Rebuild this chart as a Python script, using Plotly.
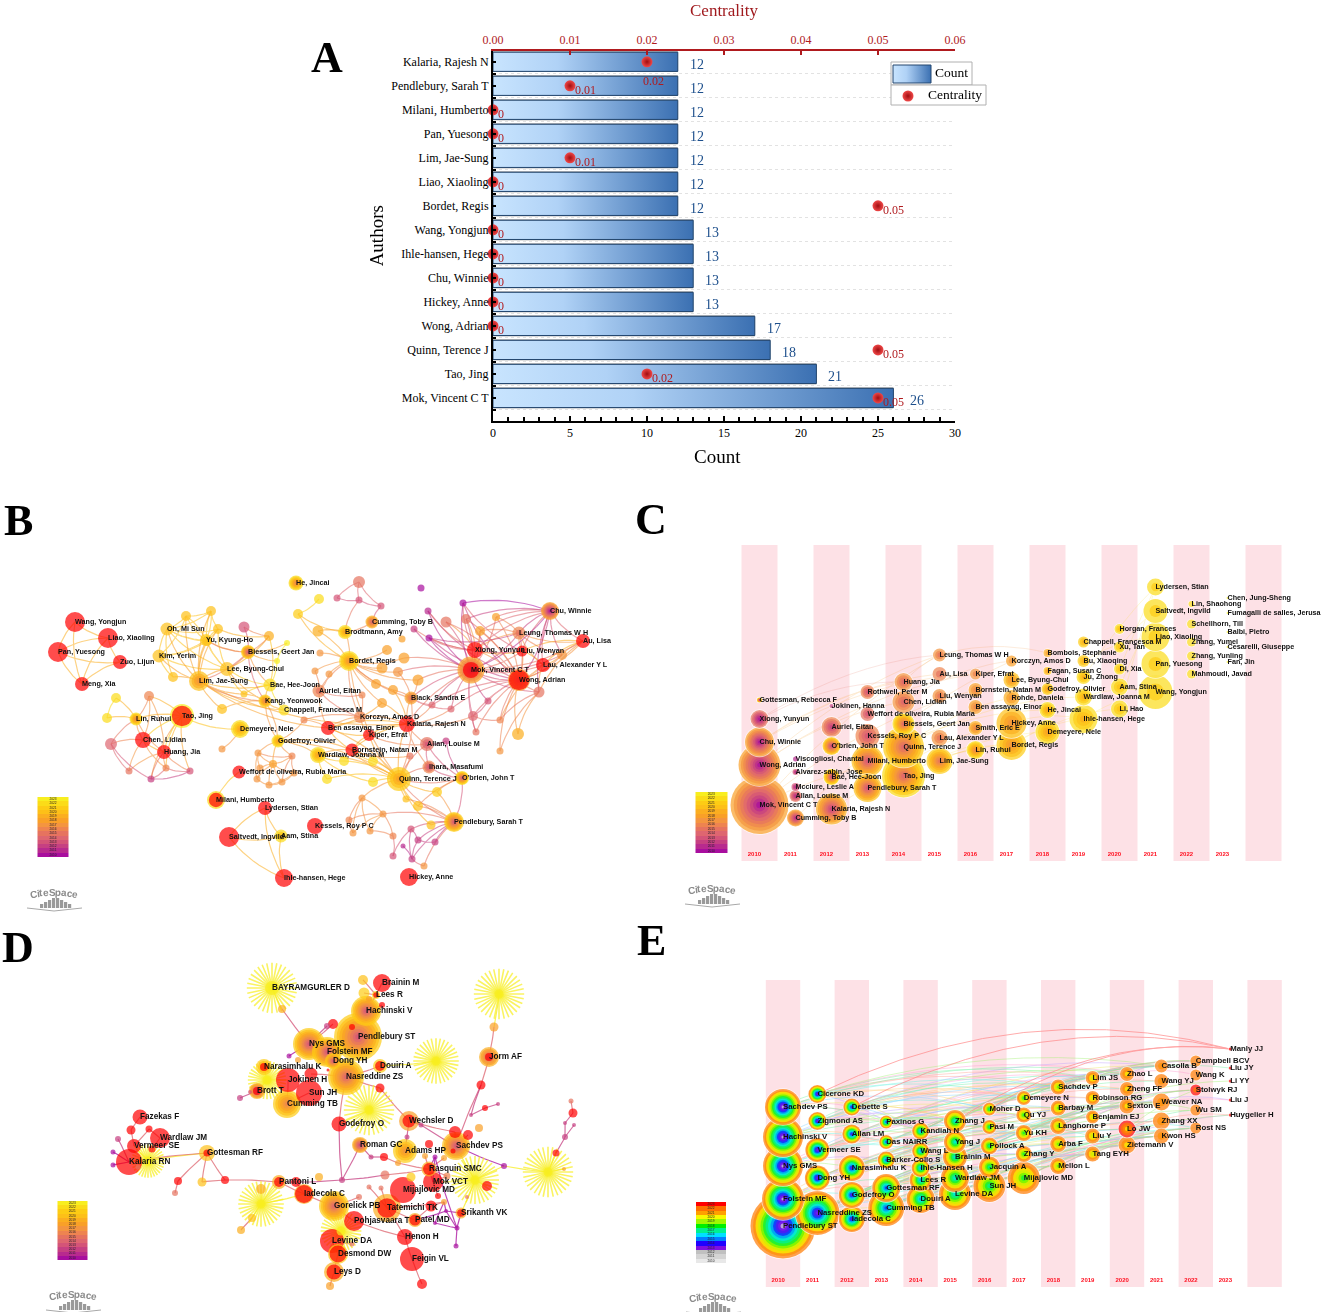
import plotly.graph_objects as go

W, H = 1325, 1312
SERIF = "Liberation Serif"
SANS = "Liberation Sans"

# ---- panel A
AUTHORS = ["Mok, Vincent C T", "Tao, Jing", "Quinn, Terence J", "Wong, Adrian", "Hickey, Anne", "Chu, Winnie",
           "Ihle-hansen, Hege", "Wang, Yongjun", "Bordet, Regis", "Liao, Xiaoling", "Lim, Jae-Sung", "Pan, Yuesong",
           "Milani, Humberto", "Pendlebury, Sarah T", "Kalaria, Rajesh N"]
COUNTS = [26, 21, 18, 17, 13, 13, 13, 13, 12, 12, 12, 12, 12, 12, 12]
CENTRALITY = [0.05, 0.02, 0.05, 0, 0, 0, 0, 0, 0.05, 0, 0.01, 0, 0, 0.01, 0.02]

# ---- year colours shared by the CiteSpace panels
YEARS = list(range(2010, 2024))
WARM = ["#a80e9e", "#b82a8e", "#c64082", "#d45478", "#de6670", "#e6735f", "#ee8450",
        "#f49540", "#f9a028", "#fbae20", "#fdc018", "#fdcc14", "#fbdc18", "#f8ee20"]
RAINBOW = ["#d8d8d8", "#8818e8", "#6010f0", "#1818ff", "#0090ff", "#00e8f0", "#00f0a0",
           "#00f040", "#60f800", "#c8f800", "#f8f800", "#ff9000", "#ff7a00", "#ff0000"]
RAINBOW_BAR = ["#e8e8e8", "#d4d4d4", "#c0c0c0", "#8010e0", "#2000ff", "#0080ff", "#00e0ff",
               "#00f090", "#00f000", "#a0f800", "#f8f800", "#ffa000", "#ff7000", "#ff0000"]

# ---- panel B, co-authorship network (page pixels), first 53 nodes are labelled
B_NAMES = ["Wang, Yongjun", "Liao, Xiaoling", "Pan, Yuesong", "Zuo, Lijun", "Meng, Xia",
           "Oh, Mi Sun", "Kim, Yerim", "Yu, Kyung-Ho", "Biessels, Geert Jan", "Lee, Byung-Chul", "Lim, Jae-Sung",
           "Bae, Hee-Joon", "Kang, Yeonwook", "Chappell, Francesca M",
           "He, Jincai", "Cumming, Toby B", "Brodtmann, Amy", "Bordet, Regis", "Auriel, Eitan",
           "Chu, Winnie", "Leung, Thomas W H", "Au, Lisa", "Xiong, Yunyun", "Liu, Wenyan", "Mok, Vincent C T",
           "Lau, Alexander Y L", "Wong, Adrian", "Black, Sandra E",
           "Korczyn, Amos D", "Ben assayag, Einor", "Kalaria, Rajesh N", "Kiper, Efrat", "Bornstein, Natan M", "Allan, Louise M",
           "Demeyere, Nele", "Godefroy, Olivier", "Wardlaw, Joanna M", "Weffort de oliveira, Rubia Maria", "Ihara, Masafumi",
           "Quinn, Terence J", "O'brien, John T",
           "Milani, Humberto", "Lydersen, Stian", "Saltvedt, Ingvild", "Aam, Stina", "Kessels, Roy P C", "Pendlebury, Sarah T",
           "Ihle-hansen, Hege", "Hickey, Anne",
           "Lin, Ruhui", "Tao, Jing", "Chen, Lidian", "Huang, Jia"]
B_X = [75, 108, 58, 120, 82,
       167, 159, 206, 248, 227, 199, 270, 265, 284,
       296, 372, 345, 349, 319,
       550, 519, 583, 475, 522, 471, 543, 519, 411,
       360, 328, 407, 369, 352, 427,
       240, 278, 318, 239, 429, 399, 462,
       216, 265, 229, 281, 315, 454, 284, 409,
       136, 182, 143, 164,
       359, 421, 319, 337, 359, 381, 298,
       463, 428, 414, 429,
       446, 466, 496, 480,
       402, 318, 387, 404, 382, 398, 320, 315, 329, 376, 393, 418, 382, 362, 304,
       562, 539, 488, 451, 432, 473, 500, 476, 518, 500, 446, 410,
       373, 344, 327, 373, 437, 418, 406, 431, 418, 435, 411, 403, 412, 393, 424, 393, 383, 370, 362, 349, 353,
       186, 211, 218, 207, 244, 269, 287, 277, 173, 222, 244,
       116, 107, 149, 111, 129, 151, 166, 190,
       222,
       258, 273, 292, 257, 269, 282, 294, 260]
B_Y = [622, 638, 652, 662, 684,
       629, 656, 640, 652, 669, 681, 685, 701, 710,
       583, 622, 632, 661, 691,
       611, 633, 641, 650, 651, 670, 665, 680, 698,
       717, 728, 724, 735, 750, 744,
       729, 741, 755, 772, 767, 779, 778,
       800, 808, 837, 836, 826, 822, 878, 877,
       719, 716, 740, 752,
       582, 588, 599, 598, 600, 606, 614,
       603, 611, 629, 638,
       622, 619, 617, 631,
       639, 631, 650, 658, 668, 672, 653, 671, 674, 684, 690, 680, 703, 695, 720,
       655, 692, 701, 709, 705, 716, 720, 732, 734, 751, 741, 756,
       761, 761, 779, 782, 792, 806, 799, 825, 840, 842, 829, 846, 859, 856, 866, 836, 814, 831, 798, 820, 833,
       616, 611, 629, 641, 627, 636, 643, 661, 677, 709, 694,
       698, 718, 696, 744, 771, 779, 768, 771,
       749,
       753, 764, 756, 779, 785, 782, 773, 768]
B_SIZE = [20, 20, 20, 14, 14,
          13, 13, 12, 14, 14, 20, 13, 13, 11,
          15, 13, 14, 20, 13,
          18, 13, 14, 16, 11, 27, 14, 22, 13,
          12, 14, 16, 12, 13, 14,
          18, 13, 16, 13, 13, 24, 14,
          18, 14, 20, 13, 16, 20, 18, 18,
          13, 24, 16, 14,
          12, 7, 10, 7, 7, 7, 10,
          7, 7, 7, 7,
          11, 10, 8, 10,
          7, 11, 10, 11, 11, 10, 7, 7, 7, 10, 10, 11, 10, 7, 7,
          10, 11, 7, 7, 7, 10, 7, 7, 12, 7, 7, 7,
          10, 10, 10, 10, 10, 10, 7, 9, 7, 7, 7, 5, 7, 7, 7, 7, 7, 7, 7, 7, 7,
          10, 10, 10, 10, 11, 10, 6, 6, 10, 10, 7,
          10, 10, 10, 12, 7, 7, 7, 7,
          7,
          7, 8, 7, 7, 7, 7, 7, 7]
B_FIRST = [9, 9, 9, 9, 9,
           10, 10, 11, 3, 10, 7, 12, 6, 12,
           6, 4, 8, 7, 5,
           0, 5, 9, 9, 9, 2, 9, 5, 5,
           6, 9, 9, 9, 9, 3,
           8, 8, 8, 9, 3, 8, 3,
           12, 9, 9, 10, 9, 3, 9, 9,
           6, 13, 9, 9,
           5, 0, 12, 3, 3, 3, 11,
           0, 1, 2, 0,
           5, 5, 8, 8,
           8, 9, 8, 8, 8, 7, 7, 7, 7, 8, 8, 8, 8, 6, 6,
           7, 5, 3, 4, 4, 4, 6, 5, 9, 7, 2, 5,
           12, 12, 12, 12, 11, 10, 10, 10, 2, 2, 3, 1, 2, 3, 7, 6, 7, 7, 7, 6, 7,
           10, 10, 10, 10, 3, 9, 13, 13, 10, 10, 10,
           12, 12, 6, 4, 5, 2, 6, 3,
           7,
           7, 8, 6, 7, 7, 7, 7, 7]
B_LAST_BY_NODE = {8: 11, 10: 10, 12: 11, 14: 12, 15: 9, 16: 12, 17: 12, 18: 6, 19: 8, 20: 6, 24: 8, 26: 8, 27: 8,
                  33: 5, 34: 12, 35: 12, 36: 12, 38: 6, 39: 11, 40: 12, 44: 12, 46: 11, 49: 12}
B_BURST_BY_NODE = {0: 1, 1: 1, 2: 1, 3: 1, 4: 1, 21: 1, 22: 1, 23: 1, 24: .6, 25: 1, 26: .92, 29: 1,
                   30: 1, 31: 1, 32: 1, 37: 1, 41: .8, 42: 1, 43: 1, 45: 1, 47: 1, 48: 1, 50: .85,
                   51: 1, 52: 1}
B_LINKS = [(0, [1, 2, 4]), (1, [2, 3, 4]), (2, [3, 4]), (3, [4]),
           (5, [6, 7, 116, 117, 118, 119, 124, 9, 10]), (6, [7, 116, 119, 124, 10, 9]), (7, [116, 117, 118, 119, 9, 10, 8]),
           (116, [117, 119, 10]), (117, [118, 119, 10]), (118, [119, 9, 10, 121]), (119, [9, 10, 8]),
           (9, [10, 8, 11, 12, 126, 121]), (10, [11, 12, 124, 125, 126, 13, 8, 29, 30]), (8, [11, 12, 120, 121, 123, 122]),
           (11, [12, 13, 126, 121, 123]), (12, [13, 126, 125, 35]), (120, [121]), (122, [123]),
           (59, [55, 16, 17]), (53, [56, 57, 58]), (56, [57]), (57, [58, 16]), (58, [15]),
           (17, [16, 69, 74, 75, 76, 70, 71, 72, 73, 77, 78, 79, 27, 18, 80, 28, 39]), (16, [69, 15]), (18, [75, 76, 81, 28, 29]),
           (24, [26, 22, 23, 25, 20, 19, 21, 64, 65, 66, 67, 85, 86, 88, 27, 84, 83, 30, 87, 90, 79, 71, 73]),
           (26, [22, 23, 25, 20, 19, 21, 65, 66, 67, 83, 84, 85, 86, 87, 88, 89, 91, 92, 90, 64]),
           (19, [20, 22, 23, 25, 21, 65, 66, 67, 83, 84, 60]), (20, [22, 23, 25, 21, 66, 67, 83]),
           (21, [23, 25, 83, 84]), (25, [83, 84, 23, 89]), (22, [23, 67, 64, 65]),
           (60, [22, 23, 24, 26]), (61, [22, 24, 26]), (62, [22, 24]), (63, [22, 24, 26, 23, 20]),
           (27, [30, 87, 86, 79, 78, 73]), (30, [29, 31, 32, 33, 28, 88, 87, 86, 80, 78, 39, 38]),
           (28, [29, 31, 81, 82]), (29, [31, 32, 82, 80]), (31, [32, 33, 39]), (32, [39, 36, 35, 95, 94]),
           (33, [38, 93, 39, 40]), (93, [40]), (38, [40, 39]), (84, [91, 92, 89]), (88, [90, 89, 85]),
           (39, [36, 95, 96, 97, 98, 94, 99, 100, 101, 46, 40, 102, 35, 27, 29, 32, 113]), (36, [35, 97, 98, 96]),
           (35, [136, 137, 138, 12, 82]), (46, [40, 99, 100, 101, 102, 103, 104, 105, 107, 109, 111]), (40, [99, 100]),
           (103, [104, 105, 107]), (105, [107, 108]), (107, [109, 106]), (108, [110]), (110, [111, 112]),
           (111, [112, 113, 114, 115]), (113, [114, 112, 115]), (114, [115]),
           (50, [49, 51, 52, 129, 133, 134, 132, 34]), (49, [128, 127, 51, 52, 130, 129]), (127, [128]),
           (51, [52, 130, 129, 131, 133]), (52, [129, 131, 132, 133, 134]), (130, [131, 132]), (132, [133, 134]), (133, [134]),
           (135, [34]), (136, [137, 138, 143, 139]), (137, [138, 143, 139, 140, 141, 142]), (138, [141, 142]),
           (139, [140, 143]), (140, [141, 142]), (141, [142]), (37, [41]),
           (42, [43, 44, 47]), (43, [44, 47]), (44, [47])]

# ---- panel C, timeline by first year, five names a column
C_NAMES = ["Mok, Vincent C T", "Wong, Adrian", "Chu, Winnie", "Xiong, Yunyun", "Gottesman, Rebecca F",
           "Cumming, Toby B", "Allan, Louise M", "Mcclure, Leslie A", "Alvarez-sabin, Jose", "Viscogliosi, Chantal",
           "Kalaria, Rajesh N", "Bae, Hee-Joon", "O'brien, John T", "Auriel, Eitan", "Jokinen, Hanna",
           "Pendlebury, Sarah T", "Milani, Humberto", "Kessels, Roy P C", "Weffort de oliveira, Rubia Maria", "Rothwell, Peter M",
           "Tao, Jing", "Quinn, Terence J", "Biessels, Geert Jan", "Chen, Lidian", "Huang, Jia",
           "Lim, Jae-Sung", "Lau, Alexander Y L", "Liu, Wenyan", "Au, Lisa", "Leung, Thomas W H",
           "Lin, Ruhui", "Smith, Eric E", "Ben assayag, Einor", "Bornstein, Natan M", "Kiper, Efrat",
           "Bordet, Regis", "Hickey, Anne", "Rohde, Daniela", "Lee, Byung-Chul", "Korczyn, Amos D",
           "Demeyere, Nele", "He, Jincai", "Godefroy, Olivier", "Fagan, Susan C", "Bombois, Stephanie",
           "Ihle-hansen, Hege", "Wardlaw, Joanna M", "Ju, Zhong", "Bu, Xiaoqing", "Chappell, Francesca M",
           "Li, Hao", "Aam, Stina", "Di, Xia", "Xu, Tan", "Horgan, Frances",
           "Wang, Yongjun", "Pan, Yuesong", "Liao, Xiaoling", "Saltvedt, Ingvild", "Lydersen, Stian",
           "Mahmoudi, Javad", "Zhang, Yunling", "Zhang, Yumei", "Schellhorn, Till", "Lin, Shaohong",
           "Fan, Jin", "Cesarelli, Giuseppe", "Balbi, Pietro", "Fumagalli de salles, Jerusa", "Chen, Jung-Sheng"]
C_Y = [805, 765, 742, 719, 700,
       818, 796, 787, 772, 759,
       809, 777, 746, 727, 706,
       788, 761, 736, 714, 692,
       776, 747, 724, 702, 682,
       761, 738, 696, 674, 655,
       750, 728, 707, 690, 674,
       745, 723, 698, 680, 661,
       732, 710, 689, 671, 653,
       719, 697, 677, 661, 642,
       709, 687, 669, 647, 629,
       692, 664, 637, 611, 587,
       674, 656, 642, 624, 604,
       662, 647, 632, 613, 598]
C_SIZE = [58, 42, 29, 18, 5,
          17, 12, 8, 6, 5,
          31, 16, 18, 20, 4,
          28, 32, 24, 14, 14,
          43, 41, 22, 22, 18,
          26, 16, 14, 14, 13,
          18, 14, 14, 14, 11,
          30, 30, 16, 16, 11,
          24, 16, 12, 8, 8,
          28, 17, 14, 12, 11,
          17, 17, 11, 11, 10,
          34, 28, 28, 24, 17,
          9, 9, 9, 9, 6,
          2, 2, 2, 2, 2]
C_LAST = [8, 8, 8, 5, 12,
          8, 5, 3, 3, 1,
          9, 12, 11, 6, 2,
          10, 10, 6, 5, 6,
          12, 11, 12, 7, 7,
          11, 7, 7, 6, 7,
          12, 9, 8, 8, 7,
          11, 10, 9, 10, 8,
          12, 12, 11, 10, 9,
          12, 12, 12, 11, 11,
          12, 12, 12, 12, 12,
          12, 12, 12, 12, 12,
          12, 12, 12, 12, 12,
          13, 13, 13, 13, 13]
C_LINKS = [(0, 25), (0, 29), (1, 29), (2, 28), (3, 29), (0, 33), (1, 34), (2, 34), (5, 39), (3, 24), (2, 24), (1, 23),
           (24, 29), (29, 44), (20, 35), (21, 37), (23, 39), (25, 35), (35, 45), (36, 45), (35, 50), (45, 55), (46, 55),
           (47, 59), (48, 57), (50, 59), (51, 58), (52, 59), (53, 58), (10, 30), (15, 36), (16, 41), (20, 40), (21, 46)]

# ---- panel D, cited-author network (page pixels), first 41 nodes are labelled
D_NAMES = ["BAYRAMGURLER D", "Brainin M", "Lees R", "Hachinski V", "Pendlebury ST", "Nys GMS", "Folstein MF", "Dong YH",
           "Nasreddine ZS", "Douiri A", "Narasimhalu K", "Jokinen H", "Brott T", "Sun JH", "Cumming TB", "Godefroy O",
           "Wechsler D", "Fazekas F", "Wardlaw JM", "Vermeer SE", "Kalaria RN", "Gottesman RF", "Roman GC", "Adams HP",
           "Sachdev PS", "Rasquin SMC", "Mok VCT", "Mijajlovic MD", "Pantoni L", "Iadecola C", "Gorelick PB", "Tatemichi TK",
           "Pohjasvaara T", "Patel MD", "Srikanth VK", "Henon H", "Levine DA", "Desmond DW", "Feigin VL", "Leys D", "Jorm AF"]
D_X = [272, 382, 376, 366, 358, 309, 327, 333, 346, 380, 264, 288, 257, 309, 287, 339, 409, 140, 160, 134, 129, 207,
       360, 405, 456, 429, 433, 403, 279, 304, 334, 387, 354, 415, 461, 405, 332, 338, 412, 334, 489,
       363, 364, 282, 369, 382, 333, 327, 352, 289, 298, 328, 311, 240, 250, 380,
       131, 149, 118, 113, 113, 152, 138, 178, 175, 202, 225, 241, 252, 261,
       296, 319, 342, 385, 411, 407, 421, 371, 384, 398, 429, 425, 435, 444, 447, 455, 468, 479, 453, 504,
       487, 438, 467, 444, 431, 446, 457, 456, 435, 369, 381, 359, 352, 330, 422, 481, 494, 471, 485, 498,
       571, 573, 565, 574, 565, 556, 564,
       499, 436, 369, 267, 148, 475, 548, 261, 341]
D_Y = [988, 983, 995, 1011, 1037, 1044, 1052, 1061, 1077, 1066, 1067, 1080, 1091, 1093, 1104, 1124, 1121, 1117, 1138,
       1146, 1162, 1153, 1145, 1151, 1146, 1169, 1182, 1190, 1182, 1194, 1206, 1208, 1221, 1220, 1213, 1237, 1241, 1254,
       1259, 1272, 1057,
       980, 993, 1009, 999, 1005, 1024, 1026, 1027, 1056, 1060, 1070, 1074, 1098, 1092, 1088,
       1130, 1129, 1139, 1152, 1165, 1149, 1167, 1181, 1193, 1182, 1180, 1230, 1218, 1189,
       1182, 1177, 1180, 1175, 1177, 1137, 1125, 1157, 1157, 1163, 1144, 1156, 1157, 1158, 1176, 1132, 1135, 1128, 1151, 1166,
       1186, 1196, 1197, 1202, 1206, 1211, 1228, 1246, 1223, 1187, 1188, 1197, 1244, 1286, 1284, 1085, 1027, 1115, 1108, 1104,
       1101, 1113, 1123, 1125, 1137, 1153, 1169,
       994, 1061, 1110, 1080, 1161, 1180, 1172, 1204, 1231]
D_SIZE = [14, 18, 8, 30, 48, 32, 30, 16, 36, 14, 16, 24, 16, 26, 28, 15, 20, 15, 20, 14, 26, 16, 16, 24, 28, 15, 20, 26,
          14, 20, 30, 28, 20, 14, 11, 16, 24, 20, 24, 20, 20,
          10, 11, 8, 6, 6, 10, 6, 6, 5, 6, 3, 13, 6, 4, 9,
          9, 7, 6, 5, 5, 7, 5, 8, 6, 9, 8, 8, 8, 10,
          10, 8, 6, 9, 9, 5, 5, 5, 8, 6, 8, 6, 5, 6, 7, 12, 10, 8, 5, 6,
          10, 6, 4, 6, 11, 4, 5, 5, 4, 5, 5, 6, 5, 8, 10, 9, 9, 4, 6, 4,
          5, 9, 4, 4, 6, 7, 4,
          9, 9, 9, 9, 9, 9, 9, 9, 9]
D_FIRST = [13, 9, 12, 3, 3, 3, 3, 3, 4, 11, 8, 9, 2, 9, 6, 9, 8, 9, 9, 9, 9, 10, 2, 7, 3, 9, 9, 9, 9, 9, 4, 9, 9, 9, 9,
           9, 9, 11, 9, 9, 4,
           10, 11, 9, 8, 9, 9, 2, 9, 0, 8, 9, 9, 2, 3, 9,
           9, 9, 2, 0, 0, 9, 5, 9, 5, 10, 9, 9, 10, 9,
           9, 9, 2, 5, 11, 2, 2, 2, 9, 8, 9, 8, 0, 8, 6, 9, 9, 8, 9, 0,
           9, 9, 5, 8, 9, 0, 0, 0, 0, 5, 5, 5, 5, 8, 9, 9, 8, 2, 9, 2,
           5, 9, 2, 2, 2, 9, 8,
           13, 13, 13, 13, 13, 13, 13, 13, 13]
D_LAST_BY_NODE = {3: 11, 4: 11, 5: 11, 6: 11, 7: 11, 8: 11, 10: 11, 12: 9, 14: 11, 22: 9, 23: 11, 24: 10, 30: 11, 40: 9}
D_BURST_BY_NODE = {1: 1, 2: .7, 9: .7, 10: .5, 11: 1, 12: .5, 13: 1, 15: 1, 16: .65, 17: 1, 18: 1, 19: 1,
                   20: 1, 21: .45, 25: .8, 26: 1, 27: 1, 28: .7, 29: .9, 31: .7, 32: 1, 33: .8, 34: .7, 35: 1,
                   36: 1, 37: .85, 38: 1, 39: .75, 40: .4}
D_BURST_SMALL = [45, 46, 48, 51, 52, 55, 56, 57, 61, 63, 66, 70, 78, 80, 85, 86, 88, 90, 91, 94, 104, 105, 108, 111, 115]
D_STARS = [0, 117, 118, 119, 120, 121, 122, 123, 124, 125]
D_STAR_SIZE = [42, 42, 38, 42, 32, 28, 40, 42, 38, 34]
D_LINKS = [(0, 43), (43, 5), (47, 5), (8, 55), (55, 16), (16, 75), (75, 23), (16, 76), (76, 24), (16, 85), (85, 24),
           (24, 86), (24, 89), (89, 123), (123, 115), (115, 114), (114, 112), (114, 113), (112, 111), (111, 110), (123, 116),
           (89, 122), (24, 122), (122, 90), (105, 24), (105, 40), (40, 106), (106, 117), (105, 107), (107, 108), (108, 109),
           (8, 15), (15, 119), (15, 72), (72, 22), (22, 77), (77, 78), (78, 79), (79, 25), (72, 73), (73, 25), (25, 26),
           (28, 72), (28, 66), (66, 65), (21, 65), (21, 66), (21, 63), (63, 64), (21, 121), (21, 20), (20, 121), (121, 19),
           (20, 58), (20, 59), (20, 60), (19, 56), (19, 57), (18, 57), (18, 61), (17, 56), (28, 29), (28, 124), (124, 29),
           (124, 69), (124, 68), (68, 67), (29, 70), (29, 30), (30, 32), (32, 35), (35, 31), (31, 99), (31, 100), (30, 101),
           (35, 38), (38, 104), (36, 37), (37, 39), (39, 103), (36, 102), (36, 125), (31, 93), (31, 33), (33, 94), (94, 93),
           (93, 95), (95, 34), (93, 98), (98, 96), (96, 97), (95, 96), (33, 95), (34, 96), (34, 122), (26, 84), (26, 91),
           (26, 122), (84, 25), (25, 83), (25, 82), (82, 26), (82, 96), (25, 81), (14, 11), (10, 120), (12, 120), (11, 120),
           (12, 53), (12, 54), (13, 14), (8, 6), (5, 6), (4, 6), (4, 3), (3, 2), (2, 1), (2, 42), (2, 41), (3, 44), (3, 45),
           (5, 49), (8, 52), (9, 118), (8, 9), (5, 46), (4, 48)]

# ---- panel E, timeline of cited authors, five names a column
E_NAMES = ["Pendlebury ST", "Folstein MF", "Nys GMS", "Hachinski V", "Sachdev PS",
           "Nasreddine ZS", "Dong YH", "Vermeer SE", "Zigmond AS", "Cicerone KD",
           "Iadecola C", "Godefroy O", "Narasimhalu K", "Allan LM", "Debette S",
           "Cumming TB", "Gottesman RF", "Barker-Collo S", "Das NAIRR", "Paxinos G",
           "Douiri A", "Lees R", "Ihle-Hansen H", "Wang L", "Kandiah N",
           "Levine DA", "Wardlaw JM", "Brainin M", "Yang J", "Zhang J",
           "Sun JH", "Jacquin A", "Pollock A", "Pasi M", "Moher D",
           "Mijajlovic MD", "Zhang Y", "Yu KH", "Qu YJ", "Demeyere N",
           "Mellon L", "Arba F", "Langhorne P", "Barbay M", "Sachdev P",
           "Tang EYH", "Liu Y", "Benjamin EJ", "Robinson RG", "Lim JS",
           "Zietemann V", "Lo JW", "Sexton E", "Zheng FF", "Zhao L",
           "Kwon HS", "Zhang XX", "Weaver NA", "Wang YJ", "Casolla B",
           "Rost NS", "Wu SM", "Stolwyk RJ", "Wang K", "Campbell BCV",
           "Huygelier H", "Liu J", "Li YY", "Liu JY", "Manly JJ"]
E_Y = [1226, 1199, 1166, 1137, 1107,
       1213, 1178, 1150, 1121, 1094,
       1219, 1195, 1168, 1134, 1107,
       1208, 1188, 1160, 1142, 1122,
       1199, 1180, 1168, 1151, 1131,
       1194, 1178, 1157, 1142, 1121,
       1186, 1167, 1146, 1127, 1109,
       1178, 1154, 1133, 1115, 1098,
       1166, 1144, 1126, 1108, 1087,
       1154, 1136, 1117, 1098, 1078,
       1145, 1129, 1106, 1089, 1074,
       1136, 1121, 1102, 1081, 1066,
       1128, 1110, 1090, 1075, 1061,
       1115, 1100, 1081, 1068, 1049]
E_SIZE = [65, 42, 40, 40, 36,
          44, 25, 24, 18, 18,
          26, 26, 26, 19, 17,
          36, 28, 17, 14, 13,
          28, 22, 18, 17, 17,
          32, 28, 24, 22, 22,
          32, 21, 17, 14, 13,
          32, 16, 16, 15, 14,
          16, 16, 16, 15, 15,
          15, 15, 13, 14, 14,
          17, 17, 15, 14, 14,
          15, 17, 17, 14, 13,
          11, 11, 11, 11, 11,
          3, 3, 3, 3, 3]
E_RED_RIM = ["Lo JW", "Stolwyk RJ"]
E_LINKS = [(0, [10, 15, 25, 30, 35, 20, 26, 31, 45]), (1, [6, 11, 16, 21, 27, 32, 36, 42, 50]), (2, [7, 12, 17, 22, 28, 33, 37, 43]),
           (3, [8, 13, 18, 23, 29, 34, 38, 44, 46]), (4, [9, 14, 19, 24, 29, 34, 39, 44, 49, 54]),
           (5, [11, 16, 21, 26, 31, 36, 41, 46, 51, 56]), (6, [12, 17, 22, 27, 32, 37, 42, 47]), (7, [13, 18, 23, 28, 33, 38, 43, 48]),
           (8, [14, 19, 24, 29, 34, 39, 44, 49, 53]), (9, [19, 24, 34, 39, 44, 49, 54, 59]),
           (10, [20, 25, 30, 35, 40, 45, 50, 55]), (11, [21, 26, 31, 36, 41, 46, 51, 56]), (12, [22, 27, 32, 37, 42, 47, 52, 57]),
           (13, [23, 28, 33, 38, 43, 48, 53, 58]), (14, [24, 29, 34, 39, 44, 49, 54, 59]),
           (15, [25, 30, 35, 40, 50, 55, 60]), (16, [26, 31, 36, 41, 51, 56, 61]), (17, [27, 32, 37, 42, 52, 57]),
           (18, [28, 33, 38, 43, 53, 58]), (19, [29, 34, 39, 44, 54, 59]),
           (20, [35, 40, 45, 50, 55]), (22, [32, 42, 47, 52]), (24, [34, 39, 44, 49, 54, 59]),
           (25, [35, 40, 45, 50, 55, 60]), (27, [37, 42, 47, 52, 57]), (29, [39, 44, 49, 54, 59]),
           (30, [40, 45, 50, 55, 60, 65]), (32, [42, 47, 52, 57, 62]), (34, [44, 49, 54, 59, 64]),
           (35, [45, 50, 55, 60, 65]), (37, [47, 52, 57, 62, 67]), (39, [49, 54, 59, 64]),
           (40, [50, 55, 60]), (42, [52, 57, 62, 66]), (44, [54, 59, 64, 68]),
           (45, [55, 60]), (47, [57, 62]), (49, [59, 64]), (51, [60, 61, 62, 65]), (52, [61, 62, 66]), (54, [63, 64])]
E_MANLY_LINKS = [(9, 69), (14, 69), (29, 69), (34, 69)]
EDGE_PASTELS = ["#ff9ad0", "#c0a0ff", "#80d0ff", "#60f0e0", "#70f0a0", "#a0f070", "#e8e860", "#ffc870", "#ffa090"]

# ---- layout of the page, in page pixels
LETTERS = [("A", 327, 57), ("B", 18, 520), ("C", 651, 519), ("D", 18, 947), ("E", 651, 940)]
COLORBARS = [(37.5, 68.5, 797, 857, WARM), (695.5, 727, 792, 853, WARM), (57.5, 87, 1201, 1260, WARM), (696, 726, 1202, 1263, RAINBOW_BAR)]
LOGOS = [(24, 887), (682, 883), (43, 1289), (683, 1291)]
LOGO_LETTERS = ["C", "i", "t", "e", "S", "p", "a", "c", "e"]
LOGO_WIDTHS = [7, 3, 3.4, 5.6, 6.7, 6, 5.6, 5.6, 5.6]

fig = go.Figure()
shapes, annotations = [], []


def bezier(x0, y0, x1, y1, cx, cy, steps=10):
    xs, ys = [], []
    for k in range(steps + 1):
        t = k / steps
        xs.append((1 - t) ** 2 * x0 + 2 * t * (1 - t) * cx + t ** 2 * x1)
        ys.append((1 - t) ** 2 * y0 + 2 * t * (1 - t) * cy + t ** 2 * y1)
    return xs, ys


def add_edges(pairs, xs, ys, color_of, bend, xa, ya, width=1.0, opacity=0.55, upward=None):
    """One line trace per colour, arcs separated by None."""
    groups = {}
    for a, b in pairs:
        if upward is None:
            cx = (xs[a] + xs[b]) / 2 - (ys[b] - ys[a]) * bend
            cy = (ys[a] + ys[b]) / 2 + (xs[b] - xs[a]) * bend
        else:
            cx = (xs[a] + xs[b]) / 2
            cy = (ys[a] + ys[b]) / 2 - abs(xs[b] - xs[a]) * upward
        ax, ay = bezier(xs[a], ys[a], xs[b], ys[b], cx, cy)
        gx, gy = groups.setdefault(color_of(a, b), ([], []))
        gx += ax + [None]
        gy += ay + [None]
    for color, (gx, gy) in groups.items():
        fig.add_trace(go.Scatter(x=gx, y=gy, mode="lines", line=dict(color=color, width=width), opacity=opacity,
                                 hoverinfo="skip", xaxis=xa, yaxis=ya, showlegend=False))


def add_nodes(xs, ys, sizes, firsts, lasts, bursts, colors, xa, ya, halo=False):
    """Tree rings: first year in the middle, last year on the rim, largest node drawn first."""
    px, py, ps, pc = [], [], [], []
    for i in sorted(range(len(xs)), key=lambda n: -sizes[n]):
        rings = lasts[i] - firsts[i] + 1
        if halo:
            px.append(xs[i]); py.append(ys[i]); ps.append(sizes[i] + 1.5); pc.append("white")
        if bursts[i] < 1:
            for k in range(rings, 0, -1):
                px.append(xs[i]); py.append(ys[i]); ps.append(sizes[i] * k / rings)
                pc.append(colors[firsts[i] + k - 1])
        if bursts[i]:
            px.append(xs[i]); py.append(ys[i]); ps.append(sizes[i] * bursts[i]); pc.append("#ff0000")
    fig.add_trace(go.Scatter(x=px, y=py, mode="markers", marker=dict(size=ps, color=pc, line=dict(width=0)),
                             cliponaxis=False, hoverinfo="skip", xaxis=xa, yaxis=ya, showlegend=False))


def add_labels(xs, ys, names, xa, ya, size):
    fig.add_trace(go.Scatter(x=xs[:len(names)], y=ys[:len(names)], text=names, mode="text", textposition="middle right",
                             textfont=dict(family=SANS, size=size, color="#111111", weight="bold"),
                             cliponaxis=False, hoverinfo="skip", xaxis=xa, yaxis=ya, showlegend=False))


def hidden_axis(rng, domain):
    return dict(range=rng, domain=domain, visible=False, fixedrange=True)


# ---- panel A marks
ROWS = list(range(len(AUTHORS)))
fig.add_trace(go.Bar(x=COUNTS, y=ROWS, orientation="h", width=0.86, marker=dict(color="#7d7d7d", line=dict(width=0)),
                     xaxis="x", yaxis="y", showlegend=False, hoverinfo="skip"))
for row, count in zip(ROWS, COUNTS):
    fig.add_trace(go.Scatter(x=[0, count, count, 0, 0], y=[row - .4, row - .4, row + .4, row + .4, row - .4], mode="lines",
                             fill="toself", line=dict(color="#24476f", width=1),
                             fillgradient=dict(type="horizontal", colorscale=[[0, "#c8e4fe"], [.35, "#b0d2f6"], [1, "#3b70b2"]]),
                             xaxis="x", yaxis="y", showlegend=False, hoverinfo="skip"))
    annotations.append(dict(x=count, y=row, xref="x", yref="y", text=str(count), showarrow=False,
                            xshift=24 if count == 26 else 19, yshift=-3,
                            font=dict(family=SERIF, size=14, color="#1d4f8c")))
fig.add_trace(go.Scatter(x=CENTRALITY, y=ROWS, mode="markers", xaxis="x2", yaxis="y", cliponaxis=False, showlegend=False,
                         hoverinfo="skip", marker=dict(size=11, color="#f04848", gradient=dict(type="radial", color="#a00d10"),
                                                       line=dict(width=0))))
for row, value in zip(ROWS, CENTRALITY):
    misplaced = AUTHORS[row] == "Kalaria, Rajesh N"
    annotations.append(dict(x=value, y=row, xref="x2", yref="y", text=f"{value:g}", showarrow=False, xanchor="left",
                            xshift=-6 if misplaced else 3, yshift=-19 if misplaced else -4,
                            font=dict(family=SERIF, size=12, color="#b01a1e")))

# ---- panel C and E columns
C_X = [2010 + i // 5 for i in range(len(C_NAMES))]
E_X = [2010 + i // 5 for i in range(len(E_NAMES))]
C_FIRST = [x - 2010 for x in C_X]
E_FIRST = [x - 2010 for x in E_X]
E_LAST = [13 if x == 2023 or n in E_RED_RIM else 12 for x, n in zip(E_X, E_NAMES)]
for year in YEARS[::2] + [2024]:
    shapes.append(dict(type="rect", xref="x4", yref="y4", x0=year - .5, x1=year + .5, y0=545, y1=861, layer="below",
                       fillcolor="#fde1e6", line=dict(width=0)))
    shapes.append(dict(type="rect", xref="x6", yref="y6", x0=year - .5, x1=year + .5, y0=980, y1=1287, layer="below",
                       fillcolor="#fde1e6", line=dict(width=0)))

# ---- panel B
B_LAST = [B_LAST_BY_NODE.get(i, f) for i, f in enumerate(B_FIRST)]
B_BURST = [B_BURST_BY_NODE.get(i, 0) for i in range(len(B_X))]
add_edges([(a, b) for a, targets in B_LINKS for b in targets], B_X, B_Y,
          lambda a, b: WARM[(B_FIRST[a] + B_FIRST[b]) // 2], 0.14, "x3", "y3", width=1.2)
add_nodes(B_X, B_Y, B_SIZE, B_FIRST, B_LAST, B_BURST, WARM, "x3", "y3")
add_labels(B_X, B_Y, B_NAMES, "x3", "y3", 7.2)

# ---- panel C
add_edges(C_LINKS, C_X, C_Y, lambda a, b: WARM[C_LAST[a]], 0, "x4", "y4", width=.8, opacity=.22, upward=5)
add_nodes(C_X, C_Y, C_SIZE, C_FIRST, C_LAST, [0] * len(C_X), WARM, "x4", "y4", halo=True)
add_labels(C_X, C_Y, C_NAMES, "x4", "y4", 7.2)
fig.add_trace(go.Scatter(x=[y - .14 for y in YEARS], y=[854] * len(YEARS), text=[str(y) for y in YEARS], mode="text",
                         textfont=dict(family=SANS, size=6, color="#ff1020", weight="bold"), cliponaxis=False,
                         hoverinfo="skip", xaxis="x4", yaxis="y4", showlegend=False))

# ---- panel D
D_LAST = [D_LAST_BY_NODE.get(i, f) for i, f in enumerate(D_FIRST)]
D_BURST = [D_BURST_BY_NODE.get(i, 1 if i in D_BURST_SMALL else 0) for i in range(len(D_X))]


def d_edge_color(a, b):
    if a in D_STARS or b in D_STARS:
        return WARM[13]
    return WARM[min(4, D_FIRST[a], D_FIRST[b])]


add_edges(D_LINKS, D_X, D_Y, d_edge_color, 0.03, "x5", "y5", width=1.2, opacity=.75)
star_x = [D_X[n] for n in D_STARS for _ in range(4)]
star_y = [D_Y[n] for n in D_STARS for _ in range(4)]
star_s = [s for s in D_STAR_SIZE for _ in range(4)]
star_a = [a for _ in D_STARS for a in (0, 11, 22, 33)]
fig.add_trace(go.Scatter(x=star_x, y=star_y, mode="markers", cliponaxis=False, hoverinfo="skip", xaxis="x5", yaxis="y5",
                         showlegend=False, marker=dict(symbol="asterisk-open", size=star_s, angle=star_a, color="#f8ee20",
                                                       line=dict(color="#f8ee20", width=1.6))))
add_nodes(D_X, D_Y, D_SIZE, D_FIRST, D_LAST, D_BURST, WARM, "x5", "y5")
add_labels(D_X, D_Y, D_NAMES, "x5", "y5", 8.2)

# ---- panel E
add_edges([(a, b) for a, targets in E_LINKS for b in targets], E_X, E_Y,
          lambda a, b: EDGE_PASTELS[(a + b) % len(EDGE_PASTELS)], 0, "x6", "y6", width=.7, opacity=.6, upward=4)
add_edges(E_MANLY_LINKS, E_X, E_Y, lambda a, b: "#ff8a8a", 0, "x6", "y6", width=.9, opacity=.8, upward=6.5)
add_nodes(E_X, E_Y, E_SIZE, E_FIRST, E_LAST, [0] * len(E_X), RAINBOW, "x6", "y6", halo=True)
add_labels(E_X, E_Y, E_NAMES, "x6", "y6", 7.8)
fig.add_trace(go.Scatter(x=[y - .14 for y in YEARS], y=[1280.5] * len(YEARS), text=[str(y) for y in YEARS], mode="text",
                         textfont=dict(family=SANS, size=6, color="#ff1020", weight="bold"), cliponaxis=False,
                         hoverinfo="skip", xaxis="x6", yaxis="y6", showlegend=False))

# ---- things placed on the page itself: year bars, logos, letters, legend of A
for x0, x1, y0, y1, colors in COLORBARS:
    n = len(YEARS)
    edges = [y0 + (y1 - y0) * k / n for k in range(n + 1)]
    scale = []
    for k, c in enumerate(colors[::-1]):
        scale += [[k / n, c], [(k + 1) / n, c]]
    fig.add_trace(go.Heatmap(x=[x0, x1], y=edges, z=[[k] for k in range(n)], colorscale=scale, zmin=-.5, zmax=n - .5,
                             showscale=False, hoverinfo="skip", xaxis="x7", yaxis="y7"))
    fig.add_trace(go.Scatter(x=[(x0 + x1) / 2] * n, y=[(a + b) / 2 for a, b in zip(edges, edges[1:])],
                             text=[str(y) for y in YEARS[::-1]], mode="text", textfont=dict(family=SANS, size=3.2, color="#222"),
                             hoverinfo="skip", xaxis="x7", yaxis="y7", showlegend=False))

for lx, ly in LOGOS:
    pos = 30 - sum(LOGO_WIDTHS) / 2
    for k, (ch, wd) in enumerate(zip(LOGO_LETTERS, LOGO_WIDTHS)):
        off = (pos + wd / 2 - 30) / 25
        annotations.append(dict(x=lx + pos + wd / 2, y=ly + 5 + off * off * 3, xref="x7", yref="y7", text=ch, showarrow=False,
                                textangle=off * 12, font=dict(family=SANS, size=10, color="#8c8c8c", weight="bold")))
        pos += wd
    for dx, top in zip(range(16, 46, 4), (17, 15, 13, 11, 11, 13, 15, 17)):
        shapes.append(dict(type="rect", xref="x7", yref="y7", x0=lx + dx, x1=lx + dx + 3.2, y0=ly + top, y1=ly + 21,
                           fillcolor="#9a9a9a", line=dict(width=0)))
    shapes.append(dict(type="path", xref="x7", yref="y7", line=dict(color="#a8a8a8", width=1),
                       path=f"M {lx + 3} {ly + 21} L {lx + 30} {ly + 24} L {lx + 58} {ly + 21}"))

for letter, lx, ly in LETTERS:
    annotations.append(dict(x=lx, y=ly, xref="x7", yref="y7", text=letter, showarrow=False,
                            font=dict(family=SERIF, size=44, color="black", weight="bold")))
annotations.append(dict(x=717, y=456, xref="x7", yref="y7", text="Count", showarrow=False,
                        font=dict(family=SERIF, size=19, color="black")))

shapes.append(dict(type="rect", xref="x7", yref="y7", x0=891, x1=972, y0=62, y1=85, fillcolor="white", layer="below",
                   line=dict(color="#b0b0b0", width=1)))
shapes.append(dict(type="rect", xref="x7", yref="y7", x0=891, x1=986, y0=85, y1=105, fillcolor="white", layer="below",
                   line=dict(color="#b0b0b0", width=1)))
fig.add_trace(go.Scatter(x=[893, 931, 931, 893, 893], y=[65, 65, 83, 83, 65], mode="lines", fill="toself",
                         line=dict(color="#24476f", width=1), hoverinfo="skip", xaxis="x7", yaxis="y7", showlegend=False,
                         fillgradient=dict(type="horizontal", colorscale=[[0, "#c8e4fe"], [.35, "#b0d2f6"], [1, "#3b70b2"]])))
fig.add_trace(go.Scatter(x=[908], y=[96], mode="markers", hoverinfo="skip", xaxis="x7", yaxis="y7", showlegend=False,
                         marker=dict(size=11, color="#f04848", gradient=dict(type="radial", color="#a00d10"), line=dict(width=0))))
fig.add_trace(go.Scatter(x=[935, 928], y=[74, 96], text=["Count", "Centrality"], mode="text", textposition="middle right",
                         textfont=dict(family=SERIF, size=13.5, color="black"), hoverinfo="skip", xaxis="x7", yaxis="y7",
                         showlegend=False))


def span(a, b, total):
    return [a / total, b / total]


def vspan(top, bottom):
    return [1 - bottom / H, 1 - top / H]


fig.update_layout(
    width=W, height=H, margin=dict(l=0, r=0, t=0, b=0, autoexpand=False), autosize=False, paper_bgcolor="white",
    plot_bgcolor="rgba(0,0,0,0)", font=dict(family=SERIF), barmode="overlay", showlegend=False, shapes=shapes, annotations=annotations,
    xaxis=dict(domain=span(493, 955, W), range=[0, 30], anchor="y", side="bottom", showgrid=False, zeroline=False,
               showline=True, linecolor="black", linewidth=2, ticks="inside", tickcolor="black", tickwidth=1.5, ticklen=5, dtick=5,
               minor=dict(dtick=1, ticks="inside", ticklen=4, tickcolor="black", tickwidth=1.5),
               tickfont=dict(family=SERIF, size=12, color="black")),
    xaxis2=dict(domain=span(493, 955, W), range=[0, .06], anchor="y", overlaying="x", side="top", showgrid=False, zeroline=False,
                showline=True, linecolor="#b01a1e", linewidth=2, ticks="inside", tickcolor="#b01a1e", tickwidth=1.5, ticklen=4,
                dtick=.01, tickformat=".2f", tickfont=dict(family=SERIF, size=12, color="#b01a1e"),
                title=dict(text="Centrality", font=dict(family=SERIF, size=17, color="#a01a1e"), standoff=12)),
    yaxis=dict(domain=vspan(50.5, 421), range=[-.96, 14.47], anchor="x", showgrid=False, zeroline=False, showline=True,
               linecolor="black", linewidth=2, ticks="inside", tickcolor="black", tickwidth=1.5, ticklen=3,
               tickvals=ROWS, ticktext=AUTHORS, tickfont=dict(family=SERIF, size=12, color="black"),
               minor=dict(tickvals=[r - .5 for r in ROWS], showgrid=True, griddash="dot", gridcolor="#e2e2e2", gridwidth=1,
                          ticks="inside", ticklen=3, tickcolor="black"),
               title=dict(text="Authors", font=dict(family=SERIF, size=19, color="black"), standoff=3)),
    xaxis3=dict(anchor="y3", **hidden_axis([0, 640], span(0, 640, W))), yaxis3=dict(anchor="x3", **hidden_axis([920, 540], vspan(540, 920))),
    xaxis4=dict(anchor="y4", **hidden_axis([2010 + (680 - 759.5) / 36, 2010 + (1325 - 759.5) / 36], span(680, 1325, W))),
    yaxis4=dict(anchor="x4", **hidden_axis([880, 540], vspan(540, 880))),
    xaxis5=dict(anchor="y5", **hidden_axis([0, 640], span(0, 640, W))), yaxis5=dict(anchor="x5", **hidden_axis([1312, 960], vspan(960, 1312))),
    xaxis6=dict(anchor="y6", **hidden_axis([2010 + (680 - 783) / 34.4, 2010 + (1325 - 783) / 34.4], span(680, 1325, W))),
    yaxis6=dict(anchor="x6", **hidden_axis([1300, 975], vspan(975, 1300))),
    xaxis7=dict(anchor="y7", **hidden_axis([0, W], [0, 1])), yaxis7=dict(anchor="x7", **hidden_axis([H, 0], [0, 1])),
)

fig.write_html("out.html", post_script="document.body.style.margin='0';", config=dict(displayModeBar=False))
